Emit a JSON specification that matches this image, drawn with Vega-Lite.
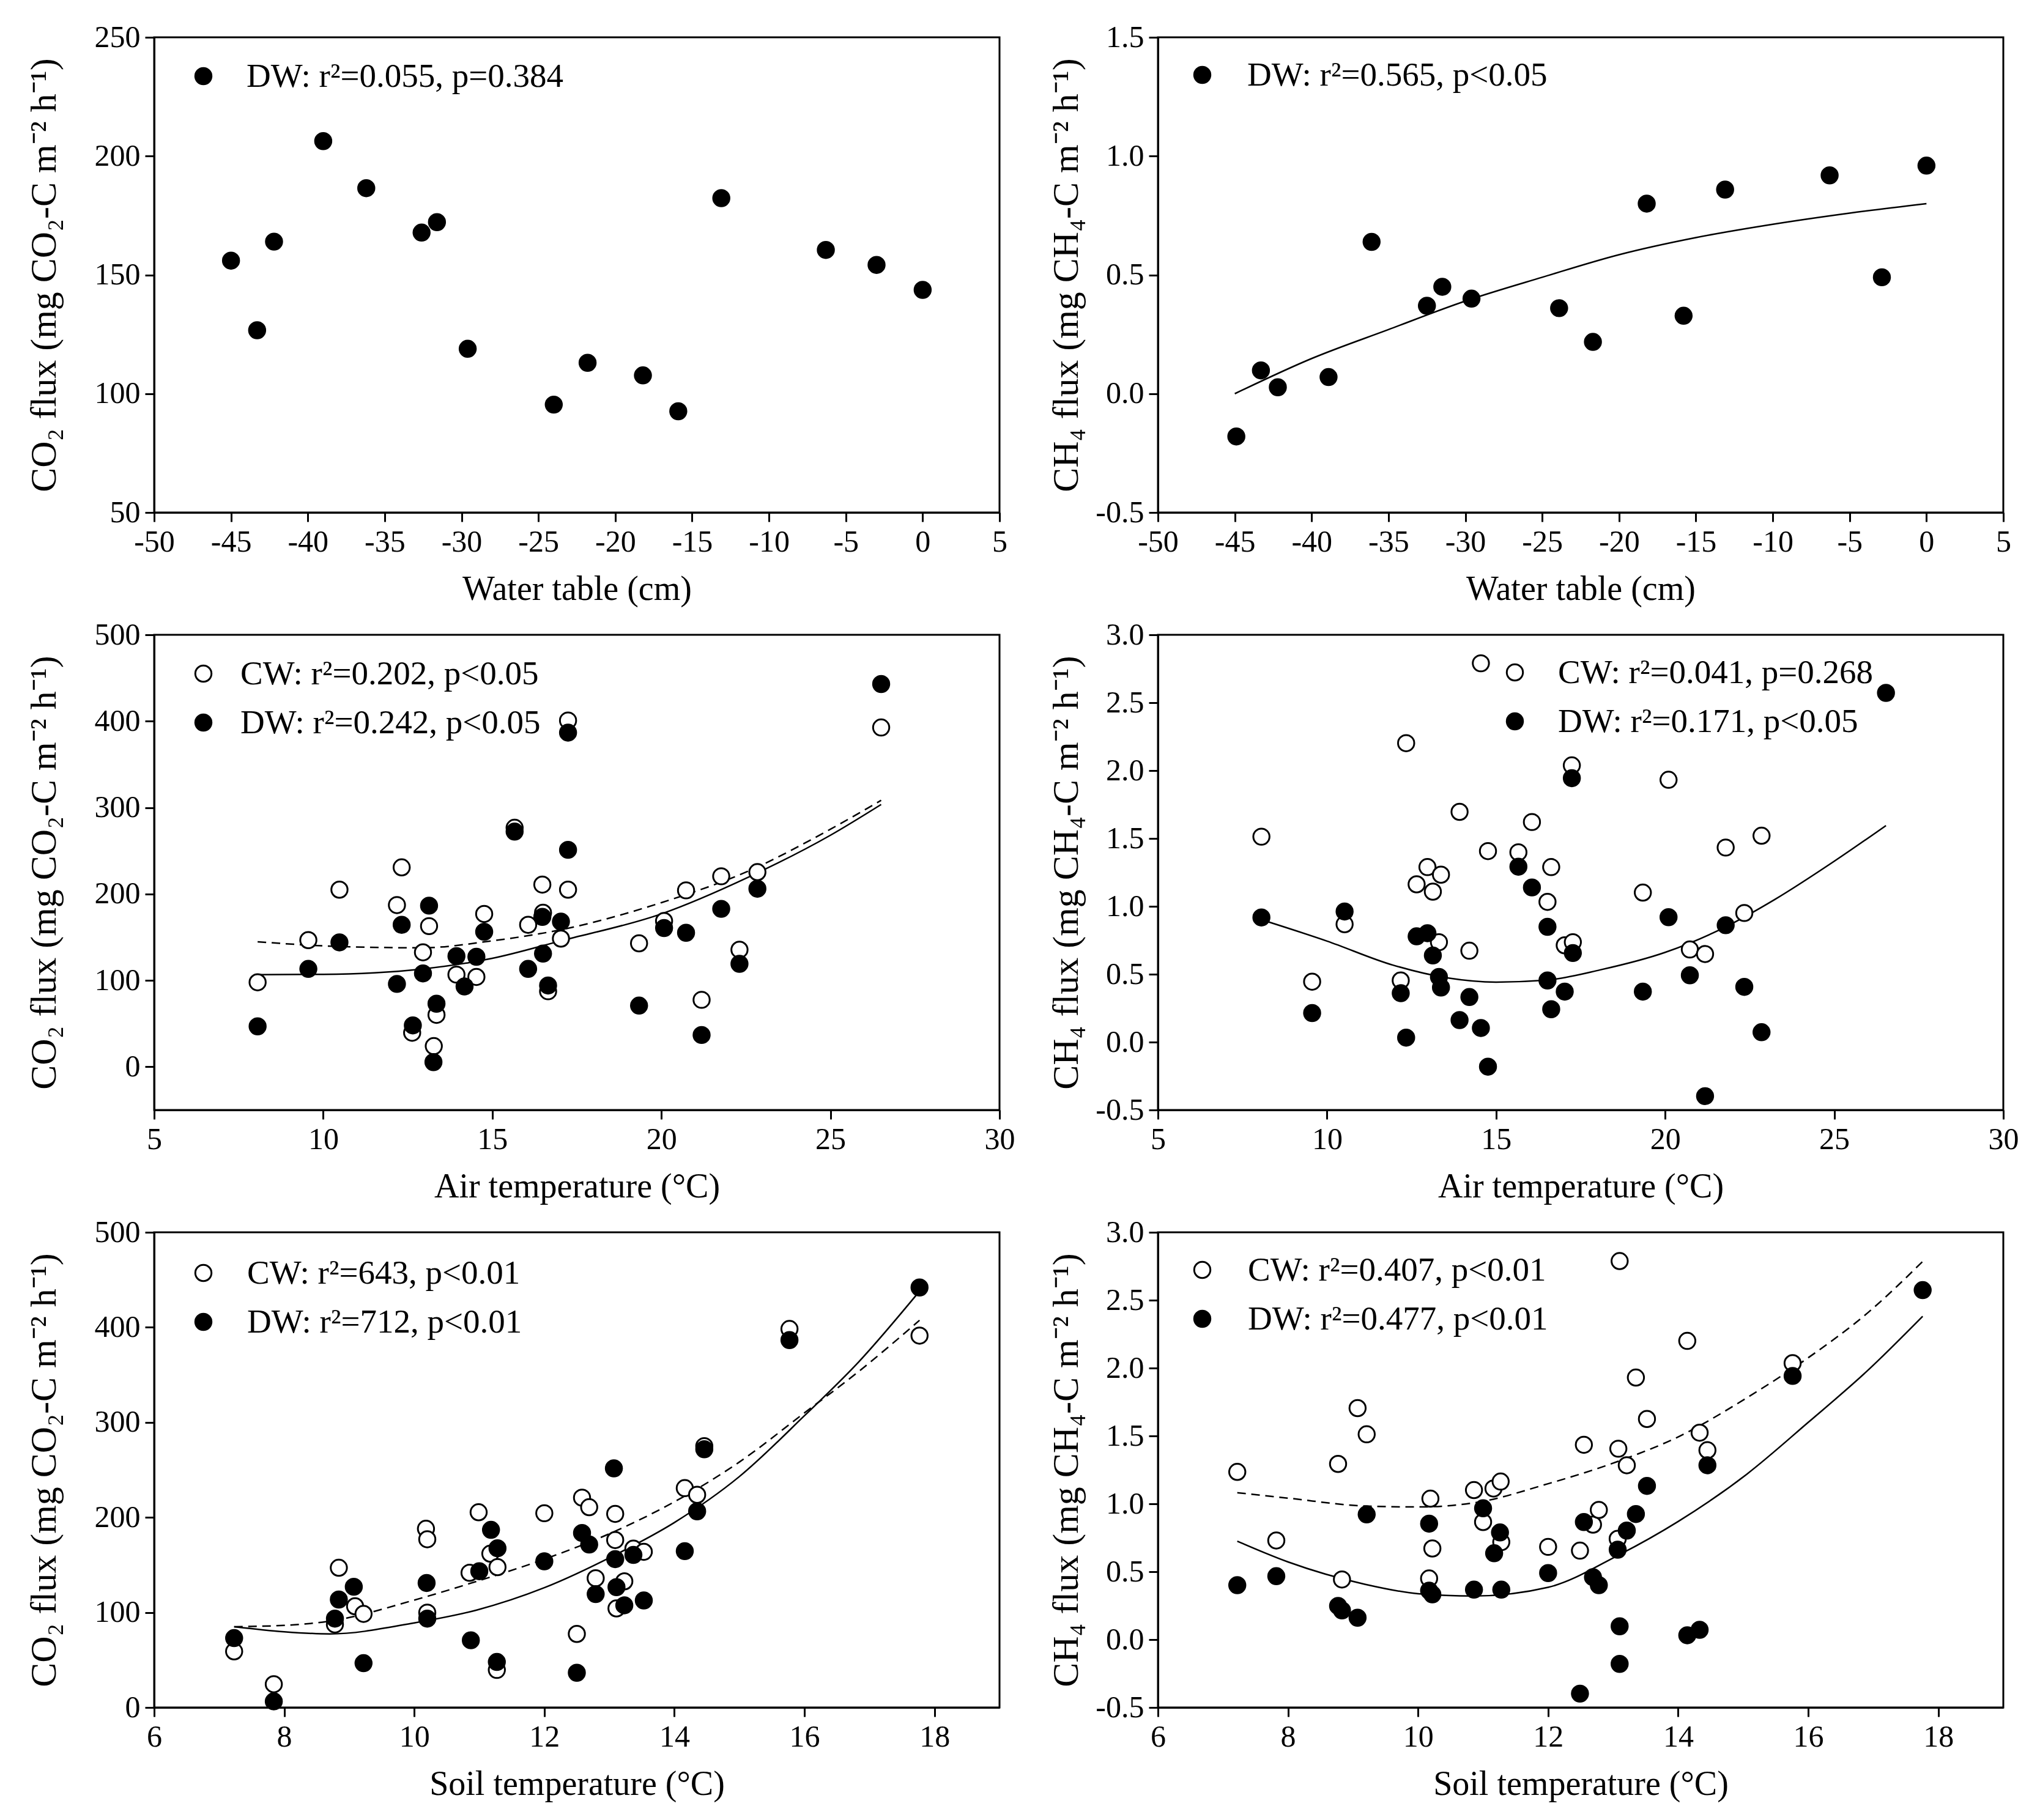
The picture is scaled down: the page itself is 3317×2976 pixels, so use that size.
{
"$schema": "https://vega.github.io/schema/vega-lite/v6.json",
"background": "white",
"padding": {"left": 40, "top": 34, "right": 20, "bottom": 20},
"columns": 2,
"spacing": {"row": 200, "column": 259},
"bounds": "flush",
"resolve": {"scale": {"fill": "independent"}, "legend": {"fill": "independent"}},
"config": {
  "font": "Liberation Serif",
  "view": {"stroke": "black", "strokeWidth": 3},
  "axis": {"domainColor": "black", "domainWidth": 3, "tickColor": "black", "tickWidth": 3, "tickSize": 15,
    "labelFont": "Liberation Serif", "labelFontSize": 50, "labelColor": "black", "labelPadding": 8,
    "titleFont": "Liberation Serif", "titleFontSize": 56, "titleFontWeight": "normal", "titleColor": "black",
    "grid": false, "labelFlush": false, "labelOverlap": false, "labelExpr": "replace(datum.label, '−', '-')"},
  "axisX": {"titlePadding": 25},
  "axisY": {"titleBaseline": "middle", "titleFontSize": 60},
  "line": {"interpolate": "monotone"},
  "legend": {"orient": "none", "title": null, "labelFont": "Liberation Serif", "labelFontSize": 55, "labelColor": "black",
    "symbolSize": 700, "symbolStrokeWidth": 3, "symbolStrokeColor": "black", "symbolType": "circle",
    "rowPadding": 24, "labelOffset": 46, "padding": 0, "labelLimit": 0}
},
"datasets": {
"points": [
{"panel":"a","site":"DW","x":-45,"y":156},{"panel":"a","site":"DW","x":-43.3,"y":126.7},{"panel":"a","site":"DW","x":-42.2,"y":164},{"panel":"a","site":"DW","x":-39.0,"y":206.3},{"panel":"a","site":"DW","x":-36.2,"y":186.5},{"panel":"a","site":"DW","x":-32.6,"y":167.8},{"panel":"a","site":"DW","x":-31.6,"y":172.2},{"panel":"a","site":"DW","x":-29.6,"y":118.9},{"panel":"a","site":"DW","x":-24.0,"y":95.4},{"panel":"a","site":"DW","x":-21.8,"y":113},{"panel":"a","site":"DW","x":-18.2,"y":107.7},{"panel":"a","site":"DW","x":-15.9,"y":92.6},{"panel":"a","site":"DW","x":-13.1,"y":182.3},{"panel":"a","site":"DW","x":-6.3,"y":160.5},{"panel":"a","site":"DW","x":-3.0,"y":154.2},{"panel":"a","site":"DW","x":0,"y":143.7},
{"panel":"b","site":"DW","x":-44.9,"y":-0.18},{"panel":"b","site":"DW","x":-43.3,"y":0.098},{"panel":"b","site":"DW","x":-42.2,"y":0.027},{"panel":"b","site":"DW","x":-38.9,"y":0.07},{"panel":"b","site":"DW","x":-36.1,"y":0.639},{"panel":"b","site":"DW","x":-32.5,"y":0.37},{"panel":"b","site":"DW","x":-31.5,"y":0.45},{"panel":"b","site":"DW","x":-29.6,"y":0.40},{"panel":"b","site":"DW","x":-23.9,"y":0.36},{"panel":"b","site":"DW","x":-21.7,"y":0.218},{"panel":"b","site":"DW","x":-18.2,"y":0.80},{"panel":"b","site":"DW","x":-15.8,"y":0.328},{"panel":"b","site":"DW","x":-13.1,"y":0.859},{"panel":"b","site":"DW","x":-6.3,"y":0.919},{"panel":"b","site":"DW","x":-2.9,"y":0.49},{"panel":"b","site":"DW","x":0,"y":0.96},
{"panel":"c","site":"CW","x":8.06,"y":97.8},{"panel":"c","site":"CW","x":9.56,"y":146.6},{"panel":"c","site":"CW","x":10.48,"y":205},{"panel":"c","site":"CW","x":12.32,"y":230.8},{"panel":"c","site":"CW","x":12.18,"y":187.2},{"panel":"c","site":"CW","x":13.13,"y":162.8},{"panel":"c","site":"CW","x":12.95,"y":132.5},{"panel":"c","site":"CW","x":12.63,"y":39.4},{"panel":"c","site":"CW","x":13.35,"y":60.1},{"panel":"c","site":"CW","x":13.27,"y":23.9},{"panel":"c","site":"CW","x":13.94,"y":106.7},{"panel":"c","site":"CW","x":14.53,"y":104},{"panel":"c","site":"CW","x":14.76,"y":176.9},{"panel":"c","site":"CW","x":15.66,"y":276.6},{"panel":"c","site":"CW","x":16.48,"y":210.9},{"panel":"c","site":"CW","x":16.5,"y":178.3},{"panel":"c","site":"CW","x":16.06,"y":164.3},{"panel":"c","site":"CW","x":16.65,"y":87.4},{"panel":"c","site":"CW","x":17.24,"y":205},{"panel":"c","site":"CW","x":17.03,"y":148.4},{"panel":"c","site":"CW","x":17.24,"y":400.8},{"panel":"c","site":"CW","x":19.34,"y":142.9},{"panel":"c","site":"CW","x":20.08,"y":168.7},{"panel":"c","site":"CW","x":20.73,"y":204.2},{"panel":"c","site":"CW","x":21.19,"y":77.5},{"panel":"c","site":"CW","x":21.77,"y":220.5},{"panel":"c","site":"CW","x":22.31,"y":135.5},{"panel":"c","site":"CW","x":22.84,"y":225.3},{"panel":"c","site":"CW","x":26.5,"y":392.7},
{"panel":"c","site":"DW","x":8.06,"y":46.8},{"panel":"c","site":"DW","x":9.56,"y":113.3},{"panel":"c","site":"DW","x":10.48,"y":144},{"panel":"c","site":"DW","x":12.18,"y":95.9},{"panel":"c","site":"DW","x":12.32,"y":164.3},{"panel":"c","site":"DW","x":13.13,"y":186.5},{"panel":"c","site":"DW","x":12.95,"y":108.1},{"panel":"c","site":"DW","x":12.65,"y":47.9},{"panel":"c","site":"DW","x":13.35,"y":73},{"panel":"c","site":"DW","x":13.26,"y":5.4},{"panel":"c","site":"DW","x":13.94,"y":128.1},{"panel":"c","site":"DW","x":14.18,"y":93},{"panel":"c","site":"DW","x":14.53,"y":127.3},{"panel":"c","site":"DW","x":14.76,"y":156.2},{"panel":"c","site":"DW","x":15.66,"y":272.2},{"panel":"c","site":"DW","x":16.06,"y":113.3},{"panel":"c","site":"DW","x":16.5,"y":131},{"panel":"c","site":"DW","x":16.48,"y":173.5},{"panel":"c","site":"DW","x":16.65,"y":94.1},{"panel":"c","site":"DW","x":17.03,"y":168},{"panel":"c","site":"DW","x":17.24,"y":251.1},{"panel":"c","site":"DW","x":17.24,"y":386.8},{"panel":"c","site":"DW","x":19.34,"y":70.8},{"panel":"c","site":"DW","x":20.08,"y":160.6},{"panel":"c","site":"DW","x":20.73,"y":155.1},{"panel":"c","site":"DW","x":21.19,"y":36.8},{"panel":"c","site":"DW","x":21.77,"y":182.8},{"panel":"c","site":"DW","x":22.31,"y":119.2},{"panel":"c","site":"DW","x":22.84,"y":206.1},{"panel":"c","site":"DW","x":26.5,"y":443},
{"panel":"d","site":"CW","x":8.06,"y":1.513},{"panel":"d","site":"CW","x":9.56,"y":0.445},{"panel":"d","site":"CW","x":10.52,"y":0.868},{"panel":"d","site":"CW","x":12.34,"y":2.202},{"panel":"d","site":"CW","x":12.18,"y":0.454},{"panel":"d","site":"CW","x":12.65,"y":1.162},{"panel":"d","site":"CW","x":12.97,"y":1.289},{"panel":"d","site":"CW","x":13.37,"y":1.233},{"panel":"d","site":"CW","x":13.13,"y":1.108},{"panel":"d","site":"CW","x":13.31,"y":0.736},{"panel":"d","site":"CW","x":13.92,"y":1.696},{"panel":"d","site":"CW","x":14.21,"y":0.673},{"panel":"d","site":"CW","x":14.55,"y":2.79},{"panel":"d","site":"CW","x":14.76,"y":1.407},{"panel":"d","site":"CW","x":15.66,"y":1.398},{"panel":"d","site":"CW","x":16.06,"y":1.621},{"panel":"d","site":"CW","x":16.63,"y":1.289},{"panel":"d","site":"CW","x":16.52,"y":1.033},{"panel":"d","site":"CW","x":17.24,"y":2.038},{"panel":"d","site":"CW","x":17.03,"y":0.713},{"panel":"d","site":"CW","x":17.27,"y":0.736},{"panel":"d","site":"CW","x":19.34,"y":1.101},{"panel":"d","site":"CW","x":20.1,"y":1.932},{"panel":"d","site":"CW","x":20.73,"y":0.682},{"panel":"d","site":"CW","x":21.18,"y":0.649},{"panel":"d","site":"CW","x":21.79,"y":1.433},{"panel":"d","site":"CW","x":22.34,"y":0.951},{"panel":"d","site":"CW","x":22.85,"y":1.52},
{"panel":"d","site":"DW","x":8.06,"y":0.918},{"panel":"d","site":"DW","x":9.56,"y":0.214},{"panel":"d","site":"DW","x":10.52,"y":0.962},{"panel":"d","site":"DW","x":12.18,"y":0.36},{"panel":"d","site":"DW","x":12.34,"y":0.033},{"panel":"d","site":"DW","x":12.65,"y":0.779},{"panel":"d","site":"DW","x":12.97,"y":0.802},{"panel":"d","site":"DW","x":13.13,"y":0.638},{"panel":"d","site":"DW","x":13.31,"y":0.48},{"panel":"d","site":"DW","x":13.37,"y":0.402},{"panel":"d","site":"DW","x":13.92,"y":0.162},{"panel":"d","site":"DW","x":14.21,"y":0.332},{"panel":"d","site":"DW","x":14.55,"y":0.104},{"panel":"d","site":"DW","x":14.76,"y":-0.181},{"panel":"d","site":"DW","x":15.66,"y":1.292},{"panel":"d","site":"DW","x":16.06,"y":1.139},{"panel":"d","site":"DW","x":16.52,"y":0.849},{"panel":"d","site":"DW","x":16.52,"y":0.454},{"panel":"d","site":"DW","x":16.63,"y":0.242},{"panel":"d","site":"DW","x":17.03,"y":0.372},{"panel":"d","site":"DW","x":17.24,"y":1.944},{"panel":"d","site":"DW","x":17.27,"y":0.656},{"panel":"d","site":"DW","x":19.34,"y":0.372},{"panel":"d","site":"DW","x":20.1,"y":0.92},{"panel":"d","site":"DW","x":20.73,"y":0.492},{"panel":"d","site":"DW","x":21.18,"y":-0.398},{"panel":"d","site":"DW","x":21.79,"y":0.861},{"panel":"d","site":"DW","x":22.34,"y":0.407},{"panel":"d","site":"DW","x":22.85,"y":0.073},{"panel":"d","site":"DW","x":26.53,"y":2.572},
{"panel":"e","site":"CW","x":7.23,"y":59},{"panel":"e","site":"CW","x":7.84,"y":24.5},{"panel":"e","site":"CW","x":8.78,"y":87.4},{"panel":"e","site":"CW","x":8.84,"y":147},{"panel":"e","site":"CW","x":9.09,"y":106.5},{"panel":"e","site":"CW","x":9.22,"y":98.5},{"panel":"e","site":"CW","x":10.18,"y":188},{"panel":"e","site":"CW","x":10.2,"y":177},{"panel":"e","site":"CW","x":10.2,"y":99.8},{"panel":"e","site":"CW","x":10.85,"y":141.7},{"panel":"e","site":"CW","x":10.99,"y":205.4},{"panel":"e","site":"CW","x":11.17,"y":161.8},{"panel":"e","site":"CW","x":11.28,"y":147.7},{"panel":"e","site":"CW","x":11.27,"y":39.5},{"panel":"e","site":"CW","x":12.0,"y":204.4},{"panel":"e","site":"CW","x":12.5,"y":77.4},{"panel":"e","site":"CW","x":12.58,"y":220.8},{"panel":"e","site":"CW","x":12.69,"y":210.7},{"panel":"e","site":"CW","x":12.79,"y":136},{"panel":"e","site":"CW","x":13.09,"y":203.7},{"panel":"e","site":"CW","x":13.09,"y":176.2},{"panel":"e","site":"CW","x":13.11,"y":104.2},{"panel":"e","site":"CW","x":13.23,"y":132.7},{"panel":"e","site":"CW","x":13.37,"y":167.2},{"panel":"e","site":"CW","x":13.53,"y":163.8},{"panel":"e","site":"CW","x":14.16,"y":230.8},{"panel":"e","site":"CW","x":14.35,"y":223.8},{"panel":"e","site":"CW","x":14.46,"y":275},{"panel":"e","site":"CW","x":15.77,"y":398.3},{"panel":"e","site":"CW","x":17.77,"y":391.3},
{"panel":"e","site":"DW","x":7.23,"y":73},{"panel":"e","site":"DW","x":7.84,"y":6.4},{"panel":"e","site":"DW","x":8.78,"y":93.5},{"panel":"e","site":"DW","x":8.84,"y":113.6},{"panel":"e","site":"DW","x":9.07,"y":127},{"panel":"e","site":"DW","x":9.22,"y":46.6},{"panel":"e","site":"DW","x":10.19,"y":131},{"panel":"e","site":"DW","x":10.2,"y":93.5},{"panel":"e","site":"DW","x":10.87,"y":70.7},{"panel":"e","site":"DW","x":11.0,"y":143.4},{"panel":"e","site":"DW","x":11.18,"y":186.9},{"panel":"e","site":"DW","x":11.28,"y":167.5},{"panel":"e","site":"DW","x":11.27,"y":47.9},{"panel":"e","site":"DW","x":12.0,"y":153.8},{"panel":"e","site":"DW","x":12.5,"y":36.5},{"panel":"e","site":"DW","x":12.58,"y":183.6},{"panel":"e","site":"DW","x":12.69,"y":171.5},{"panel":"e","site":"DW","x":12.79,"y":119.3},{"panel":"e","site":"DW","x":13.07,"y":251.6},{"panel":"e","site":"DW","x":13.09,"y":156.1},{"panel":"e","site":"DW","x":13.11,"y":126.6},{"panel":"e","site":"DW","x":13.23,"y":107.5},{"panel":"e","site":"DW","x":13.37,"y":160.5},{"panel":"e","site":"DW","x":13.53,"y":112.6},{"panel":"e","site":"DW","x":14.16,"y":164.5},{"panel":"e","site":"DW","x":14.35,"y":206.4},{"panel":"e","site":"DW","x":14.46,"y":271.7},{"panel":"e","site":"DW","x":15.77,"y":386.6},{"panel":"e","site":"DW","x":17.77,"y":441.9},
{"panel":"f","site":"CW","x":7.22,"y":1.235},{"panel":"f","site":"CW","x":7.82,"y":0.73},{"panel":"f","site":"CW","x":8.77,"y":1.294},{"panel":"f","site":"CW","x":8.83,"y":0.443},{"panel":"f","site":"CW","x":9.07,"y":1.705},{"panel":"f","site":"CW","x":9.21,"y":1.512},{"panel":"f","site":"CW","x":10.19,"y":1.038},{"panel":"f","site":"CW","x":10.22,"y":0.671},{"panel":"f","site":"CW","x":10.17,"y":0.45},{"panel":"f","site":"CW","x":10.86,"y":1.101},{"panel":"f","site":"CW","x":11.0,"y":0.866},{"panel":"f","site":"CW","x":11.16,"y":1.113},{"panel":"f","site":"CW","x":11.27,"y":1.164},{"panel":"f","site":"CW","x":11.28,"y":0.718},{"panel":"f","site":"CW","x":12.0,"y":0.683},{"panel":"f","site":"CW","x":12.49,"y":0.655},{"panel":"f","site":"CW","x":12.55,"y":1.435},{"panel":"f","site":"CW","x":12.69,"y":0.847},{"panel":"f","site":"CW","x":12.78,"y":0.955},{"panel":"f","site":"CW","x":13.07,"y":0.742},{"panel":"f","site":"CW","x":13.1,"y":2.788},{"panel":"f","site":"CW","x":13.08,"y":1.406},{"panel":"f","site":"CW","x":13.21,"y":1.284},{"panel":"f","site":"CW","x":13.35,"y":1.93},{"panel":"f","site":"CW","x":13.52,"y":1.625},{"panel":"f","site":"CW","x":14.14,"y":2.2},{"panel":"f","site":"CW","x":14.33,"y":1.524},{"panel":"f","site":"CW","x":14.45,"y":1.395},{"panel":"f","site":"CW","x":15.76,"y":2.036},
{"panel":"f","site":"DW","x":7.22,"y":0.401},{"panel":"f","site":"DW","x":7.82,"y":0.467},{"panel":"f","site":"DW","x":8.77,"y":0.248},{"panel":"f","site":"DW","x":8.83,"y":0.215},{"panel":"f","site":"DW","x":9.07,"y":0.161},{"panel":"f","site":"DW","x":9.21,"y":0.922},{"panel":"f","site":"DW","x":10.17,"y":0.854},{"panel":"f","site":"DW","x":10.17,"y":0.361},{"panel":"f","site":"DW","x":10.22,"y":0.333},{"panel":"f","site":"DW","x":10.86,"y":0.368},{"panel":"f","site":"DW","x":11.0,"y":0.967},{"panel":"f","site":"DW","x":11.17,"y":0.636},{"panel":"f","site":"DW","x":11.26,"y":0.789},{"panel":"f","site":"DW","x":11.28,"y":0.368},{"panel":"f","site":"DW","x":12.0,"y":0.49},{"panel":"f","site":"DW","x":12.49,"y":-0.398},{"panel":"f","site":"DW","x":12.55,"y":0.866},{"panel":"f","site":"DW","x":12.69,"y":0.46},{"panel":"f","site":"DW","x":12.78,"y":0.401},{"panel":"f","site":"DW","x":13.07,"y":0.662},{"panel":"f","site":"DW","x":13.1,"y":0.098},{"panel":"f","site":"DW","x":13.1,"y":-0.179},{"panel":"f","site":"DW","x":13.21,"y":0.803},{"panel":"f","site":"DW","x":13.35,"y":0.925},{"panel":"f","site":"DW","x":13.52,"y":1.132},{"panel":"f","site":"DW","x":14.14,"y":0.032},{"panel":"f","site":"DW","x":14.33,"y":0.072},{"panel":"f","site":"DW","x":14.45,"y":1.284},{"panel":"f","site":"DW","x":15.76,"y":1.942},{"panel":"f","site":"DW","x":17.76,"y":2.574}
],
"curves": [
{"panel":"b","site":"DW","x":-45,"y":0.0},{"panel":"b","site":"DW","x":-40,"y":0.148},{"panel":"b","site":"DW","x":-35,"y":0.27},{"panel":"b","site":"DW","x":-30,"y":0.39},{"panel":"b","site":"DW","x":-25,"y":0.49},{"panel":"b","site":"DW","x":-20,"y":0.585},{"panel":"b","site":"DW","x":-15,"y":0.657},{"panel":"b","site":"DW","x":-10,"y":0.713},{"panel":"b","site":"DW","x":-5,"y":0.76},{"panel":"b","site":"DW","x":0,"y":0.8},
{"panel":"c","site":"DW","x":8.06,"y":106.7},{"panel":"c","site":"DW","x":10,"y":107},{"panel":"c","site":"DW","x":12.9,"y":113},{"panel":"c","site":"DW","x":15,"y":125.5},{"panel":"c","site":"DW","x":17.05,"y":146},{"panel":"c","site":"DW","x":20,"y":177},{"panel":"c","site":"DW","x":22.6,"y":220},{"panel":"c","site":"DW","x":25,"y":268},{"panel":"c","site":"DW","x":26.5,"y":303.6},
{"panel":"c","site":"CW","x":8.06,"y":144.7},{"panel":"c","site":"CW","x":10,"y":140},{"panel":"c","site":"CW","x":12.9,"y":137.7},{"panel":"c","site":"CW","x":15,"y":145.8},{"panel":"c","site":"CW","x":17.05,"y":158.8},{"panel":"c","site":"CW","x":20,"y":190},{"panel":"c","site":"CW","x":22.6,"y":227},{"panel":"c","site":"CW","x":25,"y":275},{"panel":"c","site":"CW","x":26.5,"y":308.4},
{"panel":"d","site":"DW","x":8.27,"y":0.885},{"panel":"d","site":"DW","x":10,"y":0.744},{"panel":"d","site":"DW","x":11.95,"y":0.567},{"panel":"d","site":"DW","x":13.56,"y":0.473},{"panel":"d","site":"DW","x":15,"y":0.442},{"panel":"d","site":"DW","x":16.47,"y":0.456},{"panel":"d","site":"DW","x":18.08,"y":0.532},{"panel":"d","site":"DW","x":20,"y":0.661},{"panel":"d","site":"DW","x":21.79,"y":0.849},{"panel":"d","site":"DW","x":23.24,"y":1.05},{"panel":"d","site":"DW","x":25,"y":1.332},{"panel":"d","site":"DW","x":26.53,"y":1.595},
{"panel":"e","site":"DW","x":7.23,"y":85},{"panel":"e","site":"DW","x":8,"y":79.7},{"panel":"e","site":"DW","x":8.7,"y":77.4},{"panel":"e","site":"DW","x":10,"y":89},{"panel":"e","site":"DW","x":10.96,"y":102.5},{"panel":"e","site":"DW","x":12,"y":126},{"panel":"e","site":"DW","x":13.06,"y":159.5},{"panel":"e","site":"DW","x":14,"y":194.6},{"panel":"e","site":"DW","x":15,"y":243},{"panel":"e","site":"DW","x":16,"y":307},{"panel":"e","site":"DW","x":16.84,"y":364},{"panel":"e","site":"DW","x":17.77,"y":438},
{"panel":"e","site":"CW","x":7.23,"y":85},{"panel":"e","site":"CW","x":8,"y":86.4},{"panel":"e","site":"CW","x":8.7,"y":90.8},{"panel":"e","site":"CW","x":10,"y":113},{"panel":"e","site":"CW","x":10.96,"y":132.7},{"panel":"e","site":"CW","x":12,"y":156},{"panel":"e","site":"CW","x":13.06,"y":184.6},{"panel":"e","site":"CW","x":14,"y":216.4},{"panel":"e","site":"CW","x":15,"y":258.3},{"panel":"e","site":"CW","x":16,"y":310},{"panel":"e","site":"CW","x":16.84,"y":353.8},{"panel":"e","site":"CW","x":17.77,"y":407.4},
{"panel":"f","site":"CW","x":7.22,"y":1.082},{"panel":"f","site":"CW","x":8,"y":1.042},{"panel":"f","site":"CW","x":9.18,"y":0.984},{"panel":"f","site":"CW","x":10,"y":0.977},{"panel":"f","site":"CW","x":10.86,"y":1.007},{"panel":"f","site":"CW","x":12,"y":1.148},{"panel":"f","site":"CW","x":13.07,"y":1.312},{"panel":"f","site":"CW","x":14,"y":1.493},{"panel":"f","site":"CW","x":15.06,"y":1.782},{"panel":"f","site":"CW","x":16,"y":2.076},{"panel":"f","site":"CW","x":16.91,"y":2.405},{"panel":"f","site":"CW","x":17.76,"y":2.785},
{"panel":"f","site":"DW","x":7.22,"y":0.725},{"panel":"f","site":"DW","x":8,"y":0.572},{"panel":"f","site":"DW","x":9.18,"y":0.408},{"panel":"f","site":"DW","x":10,"y":0.338},{"panel":"f","site":"DW","x":10.86,"y":0.321},{"panel":"f","site":"DW","x":12,"y":0.385},{"panel":"f","site":"DW","x":13.07,"y":0.619},{"panel":"f","site":"DW","x":14,"y":0.87},{"panel":"f","site":"DW","x":15.06,"y":1.22},{"panel":"f","site":"DW","x":16,"y":1.6},{"panel":"f","site":"DW","x":16.91,"y":1.98},{"panel":"f","site":"DW","x":17.76,"y":2.381}
]
},
"concat": [
{
  "width": 1382, "height": 777,
  "encoding": {
    "x": {"field": "x", "type": "quantitative", "scale": {"domain": [-50, 5], "nice": false, "zero": false}, "axis": {"title": "Water table (cm)", "values": [-50,-45,-40,-35,-30,-25,-20,-15,-10,-5,0,5]}},
    "y": {"field": "y", "type": "quantitative", "scale": {"domain": [50, 250], "nice": false, "zero": false}, "axis": {"title": "CO₂ flux (mg CO₂-C m⁻² h⁻¹)", "values": [50,100,150,200,250], "titleX": -180}}
  },
  "layer": [
    {"data": {"name": "points"}, "transform": [{"filter": "datum.panel == 'a'"}],
     "mark": {"type": "point", "shape": "circle", "filled": true, "size": 700, "stroke": "black", "strokeWidth": 3, "opacity": 1},
     "encoding": {"fill": {"field": "site", "type": "nominal", "scale": {"domain": ["DW"], "range": ["black"]},
       "legend": {"legendX": 53, "legendY": 36, "labelOffset": 43, "labelExpr": "'DW: r²=0.055, p=0.384'"}}}}
  ]
},
{
  "width": 1382, "height": 777,
  "encoding": {
    "x": {"field": "x", "type": "quantitative", "scale": {"domain": [-50, 5], "nice": false, "zero": false}, "axis": {"title": "Water table (cm)", "values": [-50,-45,-40,-35,-30,-25,-20,-15,-10,-5,0,5]}},
    "y": {"field": "y", "type": "quantitative", "scale": {"domain": [-0.5, 1.5], "nice": false, "zero": false}, "axis": {"title": "CH₄ flux (mg CH₄-C m⁻² h⁻¹)", "values": [-0.5,0,0.5,1,1.5], "format": ".1f", "titleX": -150}}
  },
  "layer": [
    {"data": {"name": "curves"}, "transform": [{"filter": "datum.panel == 'b'"}],
     "mark": {"type": "line", "stroke": "black", "strokeWidth": 2.5}, "encoding": {}},
    {"data": {"name": "points"}, "transform": [{"filter": "datum.panel == 'b'"}],
     "mark": {"type": "point", "shape": "circle", "filled": true, "size": 700, "stroke": "black", "strokeWidth": 3, "opacity": 1},
     "encoding": {"fill": {"field": "site", "type": "nominal", "scale": {"domain": ["DW"], "range": ["black"]},
       "legend": {"legendX": 45, "legendY": 34, "labelOffset": 46, "labelExpr": "'DW: r²=0.565, p<0.05'"}}}}
  ]
},
{
  "width": 1382, "height": 777,
  "encoding": {
    "x": {"field": "x", "type": "quantitative", "scale": {"domain": [5, 30], "nice": false, "zero": false}, "axis": {"title": "Air temperature (°C)", "values": [5,10,15,20,25,30]}},
    "y": {"field": "y", "type": "quantitative", "scale": {"domain": [-50, 500], "nice": false, "zero": false}, "axis": {"title": "CO₂ flux (mg CO₂-C m⁻² h⁻¹)", "values": [0,100,200,300,400,500], "titleX": -180}}
  },
  "layer": [
    {"data": {"name": "curves"}, "transform": [{"filter": "datum.panel == 'c' && datum.site == 'CW'"}],
     "mark": {"type": "line", "stroke": "black", "strokeWidth": 2.5, "strokeDash": [14, 9]}, "encoding": {}},
    {"data": {"name": "curves"}, "transform": [{"filter": "datum.panel == 'c' && datum.site == 'DW'"}],
     "mark": {"type": "line", "stroke": "black", "strokeWidth": 2.5}, "encoding": {}},
    {"data": {"name": "points"}, "transform": [{"filter": "datum.panel == 'c'"}],
     "mark": {"type": "point", "shape": "circle", "filled": true, "size": 700, "stroke": "black", "strokeWidth": 3, "opacity": 1},
     "encoding": {"fill": {"field": "site", "type": "nominal", "scale": {"domain": ["CW", "DW"], "range": ["white", "black"]},
       "legend": {"legendX": 53, "legendY": 36, "labelOffset": 33, "labelExpr": "datum.label == 'CW' ? 'CW: r²=0.202, p<0.05' : 'DW: r²=0.242, p<0.05'"}}}}
  ]
},
{
  "width": 1382, "height": 777,
  "encoding": {
    "x": {"field": "x", "type": "quantitative", "scale": {"domain": [5, 30], "nice": false, "zero": false}, "axis": {"title": "Air temperature (°C)", "values": [5,10,15,20,25,30]}},
    "y": {"field": "y", "type": "quantitative", "scale": {"domain": [-0.5, 3], "nice": false, "zero": false}, "axis": {"title": "CH₄ flux (mg CH₄-C m⁻² h⁻¹)", "values": [-0.5,0,0.5,1,1.5,2,2.5,3], "format": ".1f", "titleX": -150}}
  },
  "layer": [
    {"data": {"name": "curves"}, "transform": [{"filter": "datum.panel == 'd'"}],
     "mark": {"type": "line", "stroke": "black", "strokeWidth": 2.5}, "encoding": {}},
    {"data": {"name": "points"}, "transform": [{"filter": "datum.panel == 'd'"}],
     "mark": {"type": "point", "shape": "circle", "filled": true, "size": 700, "stroke": "black", "strokeWidth": 3, "opacity": 1},
     "encoding": {"fill": {"field": "site", "type": "nominal", "scale": {"domain": ["CW", "DW"], "range": ["white", "black"]},
       "legend": {"legendX": 556, "legendY": 34, "labelOffset": 43, "labelExpr": "datum.label == 'CW' ? 'CW: r²=0.041, p=0.268' : 'DW: r²=0.171, p<0.05'"}}}}
  ]
},
{
  "width": 1382, "height": 777,
  "encoding": {
    "x": {"field": "x", "type": "quantitative", "scale": {"domain": [6, 19], "nice": false, "zero": false}, "axis": {"title": "Soil temperature (°C)", "values": [6,8,10,12,14,16,18]}},
    "y": {"field": "y", "type": "quantitative", "scale": {"domain": [0, 500], "nice": false, "zero": false}, "axis": {"title": "CO₂ flux (mg CO₂-C m⁻² h⁻¹)", "values": [0,100,200,300,400,500], "titleX": -180}}
  },
  "layer": [
    {"data": {"name": "curves"}, "transform": [{"filter": "datum.panel == 'e' && datum.site == 'CW'"}],
     "mark": {"type": "line", "stroke": "black", "strokeWidth": 2.5, "strokeDash": [14, 9]}, "encoding": {}},
    {"data": {"name": "curves"}, "transform": [{"filter": "datum.panel == 'e' && datum.site == 'DW'"}],
     "mark": {"type": "line", "stroke": "black", "strokeWidth": 2.5}, "encoding": {}},
    {"data": {"name": "points"}, "transform": [{"filter": "datum.panel == 'e'"}],
     "mark": {"type": "point", "shape": "circle", "filled": true, "size": 700, "stroke": "black", "strokeWidth": 3, "opacity": 1},
     "encoding": {"fill": {"field": "site", "type": "nominal", "scale": {"domain": ["CW", "DW"], "range": ["white", "black"]},
       "legend": {"legendX": 53, "legendY": 39, "labelOffset": 44, "labelExpr": "datum.label == 'CW' ? 'CW: r²=643, p<0.01' : 'DW: r²=712, p<0.01'"}}}}
  ]
},
{
  "width": 1382, "height": 777,
  "encoding": {
    "x": {"field": "x", "type": "quantitative", "scale": {"domain": [6, 19], "nice": false, "zero": false}, "axis": {"title": "Soil temperature (°C)", "values": [6,8,10,12,14,16,18]}},
    "y": {"field": "y", "type": "quantitative", "scale": {"domain": [-0.5, 3], "nice": false, "zero": false}, "axis": {"title": "CH₄ flux (mg CH₄-C m⁻² h⁻¹)", "values": [-0.5,0,0.5,1,1.5,2,2.5,3], "format": ".1f", "titleX": -150}}
  },
  "layer": [
    {"data": {"name": "curves"}, "transform": [{"filter": "datum.panel == 'f' && datum.site == 'CW'"}],
     "mark": {"type": "line", "stroke": "black", "strokeWidth": 2.5, "strokeDash": [14, 9]}, "encoding": {}},
    {"data": {"name": "curves"}, "transform": [{"filter": "datum.panel == 'f' && datum.site == 'DW'"}],
     "mark": {"type": "line", "stroke": "black", "strokeWidth": 2.5}, "encoding": {}},
    {"data": {"name": "points"}, "transform": [{"filter": "datum.panel == 'f'"}],
     "mark": {"type": "point", "shape": "circle", "filled": true, "size": 700, "stroke": "black", "strokeWidth": 3, "opacity": 1},
     "encoding": {"fill": {"field": "site", "type": "nominal", "scale": {"domain": ["CW", "DW"], "range": ["white", "black"]},
       "legend": {"legendX": 45, "legendY": 34, "labelOffset": 47, "labelExpr": "datum.label == 'CW' ? 'CW: r²=0.407, p<0.01' : 'DW: r²=0.477, p<0.01'"}}}}
  ]
}
]
}
